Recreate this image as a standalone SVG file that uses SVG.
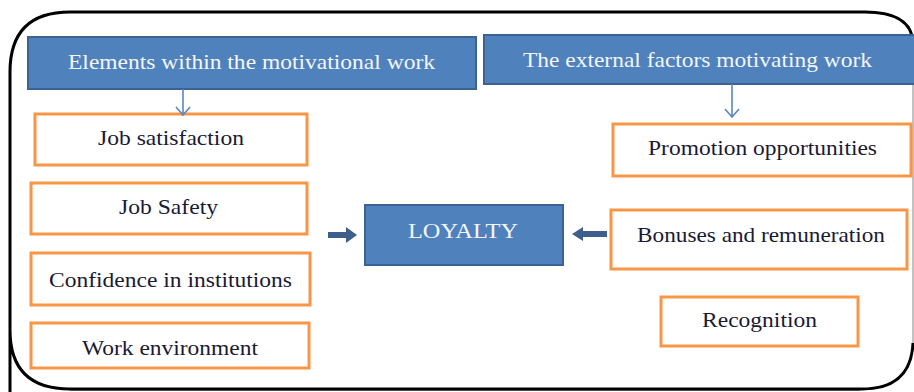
<svg xmlns="http://www.w3.org/2000/svg" width="914" height="392" viewBox="0 0 914 392">
<defs>
<style>
.frame{fill:none;stroke:#000;stroke-width:3}
.edge{fill:none;stroke:#9A9A9A;stroke-width:1.2}
.hdr{fill:#4F81BD;stroke:#3A6391;stroke-width:2}
.box{fill:#fff;stroke:#F79646;stroke-width:3}
.ht{font-family:"Liberation Serif","Times New Roman",serif;font-size:22px;fill:#F4F6FA}
.bt{font-family:"Liberation Serif","Times New Roman",serif;font-size:22px;fill:#1A1A33}
.thin{fill:none;stroke:#5B86BE;stroke-width:1.6}
.thick{fill:#3E5F8C;stroke:none}
</style>
</defs>
<rect width="914" height="392" fill="#fff"/>
<path class="edge" d="M913,40 L913,345 M70,390.5 L860,390.5"/>
<path class="frame" d="M10,392 L10,72 Q10,12 70,12 L865,12 Q911,12 913,42 M10,330 Q10,389 70,389 L862,389 Q911,389 913,343"/>
<g id="hdr-internal">
<rect class="hdr" x="28" y="37" width="448" height="52"/>
<text class="ht" x="68" y="69" textLength="367" lengthAdjust="spacingAndGlyphs">Elements within the motivational work</text>
</g>
<g id="hdr-external">
<rect class="hdr" x="484" y="35" width="440" height="49"/>
<text class="ht" x="523" y="67" textLength="349" lengthAdjust="spacingAndGlyphs">The external factors motivating work</text>
</g>
<g id="job-satisfaction">
<rect class="box" x="35" y="114" width="272" height="51"/>
<text class="bt" x="98" y="145" textLength="146" lengthAdjust="spacingAndGlyphs">Job satisfaction</text>
</g>
<g id="job-safety">
<rect class="box" x="31" y="183" width="276" height="51"/>
<text class="bt" x="119" y="214" textLength="99" lengthAdjust="spacingAndGlyphs">Job Safety</text>
</g>
<g id="confidence">
<rect class="box" x="31" y="253" width="279" height="52"/>
<text class="bt" x="49" y="287" textLength="243" lengthAdjust="spacingAndGlyphs">Confidence in institutions</text>
</g>
<g id="work-environment">
<rect class="box" x="31" y="323" width="278" height="45"/>
<text class="bt" x="82" y="355" textLength="176" lengthAdjust="spacingAndGlyphs">Work environment</text>
</g>
<g id="loyalty">
<rect class="hdr" x="365" y="205" width="198" height="60"/>
<text class="ht" x="408" y="238" textLength="110" lengthAdjust="spacingAndGlyphs">LOYALTY</text>
</g>
<g id="promotion">
<rect class="box" x="613" y="124" width="298" height="52"/>
<text class="bt" x="648" y="155" textLength="229" lengthAdjust="spacingAndGlyphs">Promotion opportunities</text>
</g>
<g id="bonuses">
<rect class="box" x="611" y="210" width="296" height="59"/>
<text class="bt" x="637" y="242" textLength="248" lengthAdjust="spacingAndGlyphs">Bonuses and remuneration</text>
</g>
<g id="recognition">
<rect class="box" x="661" y="297" width="197" height="49"/>
<text class="bt" x="702" y="327" textLength="115" lengthAdjust="spacingAndGlyphs">Recognition</text>
</g>
<g id="connectors">
<path class="thin" d="M183,89 L183,115 M176,107 L183,115 L190,107"/>
<path class="thin" d="M732,84 L732,117 M725,109 L732,117 L739,109"/>
<path class="thick" d="M328,232 L346,232 L346,227 L357,235 L346,243 L346,238 L328,238 Z"/>
<path class="thick" d="M607,231 L583,231 L583,227 L572,234 L583,241 L583,237 L607,237 Z"/>
</g>
</svg>
